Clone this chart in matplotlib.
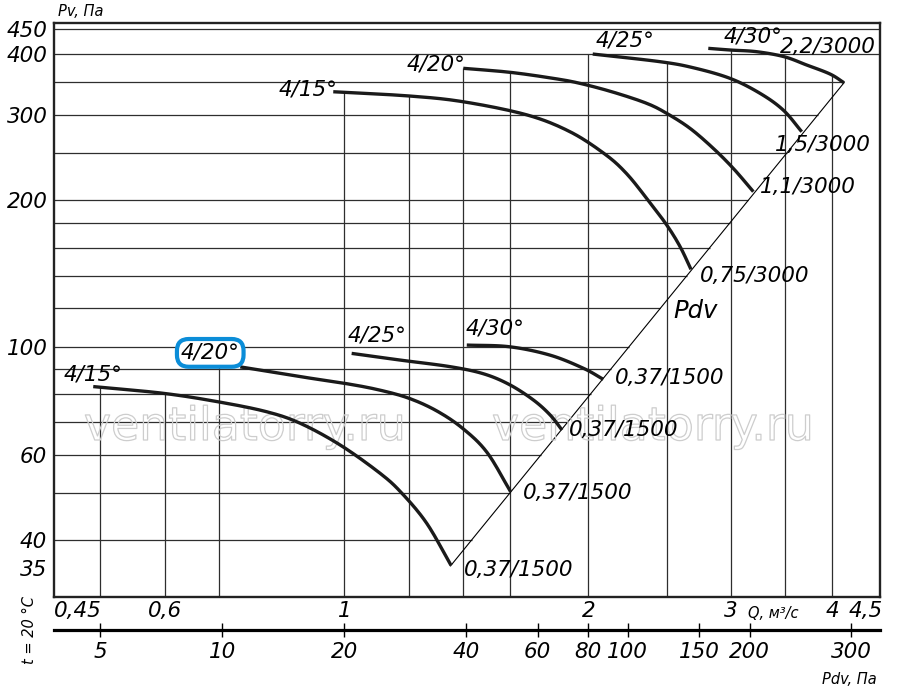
import numpy as np
import matplotlib
matplotlib.use("Agg")
import matplotlib.pyplot as plt
from matplotlib import patheffects as pe
from matplotlib.ticker import NullLocator

# ---------------- data (Q in m3/s, Pv in Pa) ----------------
lo15_q = [0.490, 0.598, 0.700, 0.802, 0.882, 0.988, 1.107, 1.177, 1.264, 1.354]
lo15_p = [82.8, 80.2, 77.0, 73.5, 69.6, 62.8, 54.9, 50.0, 43.3, 35.5]
lo20_q = [0.744, 0.882, 1.000, 1.100, 1.200, 1.300, 1.400, 1.500, 1.604]
lo20_p = [90.9, 86.8, 84.1, 81.6, 78.4, 73.8, 67.9, 60.6, 50.3]
lo25_q = [1.021, 1.171, 1.350, 1.484, 1.598, 1.711, 1.794, 1.856]
lo25_p = [96.9, 93.9, 91.0, 88.0, 83.6, 77.7, 72.4, 67.4]
lo30_q = [1.416, 1.598, 1.794, 1.972, 2.087]
lo30_p = [100.8, 100.0, 96.1, 90.3, 85.7]
up15_q = [0.969, 1.201, 1.402, 1.679, 1.898, 2.097, 2.230, 2.371, 2.499, 2.596, 2.677]
up15_p = [334.7, 328.1, 319.2, 300.0, 277.0, 249.0, 227.0, 200.0, 178.0, 160.6, 144.3]
up20_q = [1.402, 1.601, 1.811, 1.953, 2.147, 2.361, 2.499, 2.670, 2.852, 3.019, 3.196]
up20_p = [374.0, 367.0, 356.6, 348.3, 334.0, 316.8, 302.1, 281.4, 256.0, 232.8, 208.5]
up25_q = [2.025, 2.452, 2.695, 2.991, 3.257, 3.479, 3.667]
up25_p = [400.2, 385.9, 375.0, 356.6, 332.2, 306.9, 277.0]
up30_q = [2.812, 2.997, 3.227, 3.489, 3.719, 3.974, 4.135]
up30_p = [411.1, 407.8, 404.6, 395.1, 379.9, 364.0, 349.3]

blade_labels = ["4/15°", "4/20°", "4/25°", "4/30°"]
lower_motor = ["0,37/1500", "0,37/1500", "0,37/1500", "0,37/1500"]
upper_motor = ["0,75/3000", "1,1/3000", "1,5/3000", "2,2/3000"]

# dynamic-pressure line as drawn (ends)
diag_q = [1.352, 4.135]
diag_p = [35.4, 349.3]

pdv_coef = 20.0              # bottom scale: Pdv = 20 * Q^2
y_ticks = [35, 40, 60, 100, 200, 300, 400, 450]
y_tick_labels = ["35", "40", "60", "100", "200", "300", "400", "450"]
q_ticks = [0.6, 1, 2, 3, 4]
q_tick_labels = ["0,6", "1", "2", "3", "4"]
q_edge_labels = ["0,45", "4,5"]
pdv_tick_labels = ["5", "10", "20", "40", "60", "80", "100", "150", "200", "300"]
pdv_tick_pos = [5, 10, 20, 40, 60, 80, 100, 150, 200, 356]

vgrid_q = [0.5, 0.6, 0.7, 1.0, 1.2, 1.4, 1.6, 2.0, 2.5, 3.0, 3.5, 4.0]
hgrid_p = [40, 50, 60, 70, 80, 90, 100, 120, 140, 160, 180, 200, 250, 300, 350, 400, 450]

xlim = (0.4387, 4.58)
ylim = (30.6, 462.9)

# ---------------- figure ----------------
plt.rcParams["font.family"] = ["DejaVu Sans"]
plt.rcParams["font.style"] = "italic"

W, H = 900, 689
fig = plt.figure(figsize=(W / 100, H / 100), dpi=100)
L, R, T, B = 54.3, 880.0, 23.3, 596.7
ax = fig.add_axes([L / W, 1 - B / H, (R - L) / W, (B - T) / H])
ax.set_xscale("log")
ax.set_yscale("log")
ax.set_xlim(*xlim)
ax.set_ylim(*ylim)
for s in ax.spines.values():
    s.set_linewidth(1.7)
    s.set_color("#222222")

lower = [(lo15_q, lo15_p), (lo20_q, lo20_p), (lo25_q, lo25_p), (lo30_q, lo30_p)]
upper = [(up15_q, up15_p), (up20_q, up20_p), (up25_q, up25_p), (up30_q, up30_p)]
curves = lower + upper


def envelope(q):
    best = None
    for cq, cp in curves:
        if cq[0] / 1.07 <= q <= cq[-1]:
            v = np.exp(np.interp(np.log(q), np.log(cq), np.log(cp)))
            best = v if best is None else max(best, v)
    return best if best is not None else ylim[1]


def smooth_path(q, p, n=16):
    """Catmull-Rom curve through the read points (log-log space), for drawing only."""
    pts = np.column_stack([np.log(np.asarray(q, float)), np.log(np.asarray(p, float))])
    ext = np.vstack([2 * pts[0] - pts[1], pts, 2 * pts[-1] - pts[-2]])
    out = []
    t = np.linspace(0, 1, n, endpoint=False)[:, None]
    for i in range(1, len(ext) - 2):
        p0, p1, p2, p3 = ext[i - 1], ext[i], ext[i + 1], ext[i + 2]
        seg = 0.5 * ((2 * p1) + (-p0 + p2) * t + (2 * p0 - 5 * p1 + 4 * p2 - p3) * t ** 2
                     + (-p0 + 3 * p1 - 3 * p2 + p3) * t ** 3)
        out.append(seg)
    out.append(pts[-1:])
    out = np.vstack(out)
    return np.exp(out[:, 0]), np.exp(out[:, 1])


# slope of the drawn Pdv line in log-log space
diag_n = np.log(diag_p[1] / diag_p[0]) / np.log(diag_q[1] / diag_q[0])

grid_kw = dict(color="#2e2e2e", lw=0.9, zorder=1)
for q in vgrid_q:
    ax.vlines(q, ylim[0], envelope(q), **grid_kw)
for p in hgrid_p:
    if p <= diag_p[1] * 1.05:
        qend = min(diag_q[0] * (p / diag_p[0]) ** (1 / diag_n), diag_q[1])
    else:
        qend = xlim[1]
    ax.hlines(p, xlim[0], qend, **grid_kw)

ax.plot(diag_q, diag_p, color="black", lw=0.8, zorder=2)

for cq, cp in curves:
    sq, sp = smooth_path(cq, cp)
    ax.plot(sq, sp, color="#1a1a1a", lw=2.4, solid_capstyle="butt", zorder=3)

lab_fs = 15.5
# label offsets in pixels (relative to curve start / end)
lower_start_off = [(0, 12), (-30, 14), (25, 18), (28, 17)]
upper_start_off = [(-25, 2), (-27, 4), (32, 14), (45, 12)]
lower_end_off = [(68, -5), (67, -1), (62, 0), (66, 1)]
upper_end_off = [(64, -7), (55, 5), (21, -13), (-16, 36)]

for i, (cq, cp) in enumerate(lower):
    kw = {}
    if i == 1:
        kw["bbox"] = dict(boxstyle="round,pad=0.18,rounding_size=0.55", fc="white",
                          ec="#0b8dd8", lw=3)
    ax.annotate(blade_labels[i], (cq[0], cp[0]), xytext=lower_start_off[i],
                textcoords="offset pixels", ha="center", va="center",
                fontsize=lab_fs, zorder=5, **kw)
    ax.annotate(lower_motor[i], (cq[-1], cp[-1]), xytext=lower_end_off[i],
                textcoords="offset pixels", ha="center", va="center",
                fontsize=lab_fs, zorder=5)
for i, (cq, cp) in enumerate(upper):
    ax.annotate(blade_labels[i], (cq[0], cp[0]), xytext=upper_start_off[i],
                textcoords="offset pixels", ha="center", va="center",
                fontsize=lab_fs, zorder=5)
    ax.annotate(upper_motor[i], (cq[-1], cp[-1]), xytext=upper_end_off[i],
                textcoords="offset pixels", ha="center", va="center",
                fontsize=lab_fs, zorder=5)

ax.text((696 - L) / (R - L), (B - 311) / (B - T), "Pdv", transform=ax.transAxes,
        ha="center", va="center", fontsize=17.5, zorder=5)

# watermark (outlined)
for xc in [245, 653]:
    ax.text((xc - L) / (R - L), (B - 440) / (B - T), "ventilatorry.ru",
            transform=ax.transAxes, ha="center", va="baseline", fontsize=33,
            fontstyle="normal", color="none", zorder=2.5,
            path_effects=[pe.Stroke(linewidth=0.9, foreground="#cdcdcd")])

# y ticks
ax.yaxis.set_minor_locator(NullLocator())
ax.set_yticks(y_ticks, y_tick_labels)
ax.tick_params(axis="y", length=0, pad=5, labelsize=lab_fs)

# Q ticks
ax.xaxis.set_minor_locator(NullLocator())
ax.set_xticks(q_ticks, q_tick_labels)
ax.tick_params(axis="x", length=0, pad=3, labelsize=lab_fs)
ax.text(0.0, -0.007, q_edge_labels[0], transform=ax.transAxes, ha="left", va="top",
        fontsize=lab_fs)
ax.text(1.003, -0.007, q_edge_labels[1], transform=ax.transAxes, ha="right", va="top",
        fontsize=lab_fs)

# Pdv secondary axis
sec = ax.secondary_xaxis((B - 630) / (B - T),
                         functions=(lambda q: pdv_coef * np.asarray(q) ** 2,
                                    lambda p: np.sqrt(np.clip(p, 1e-9, None) / pdv_coef)))
sec.xaxis.set_minor_locator(NullLocator())
sec.set_xticks(pdv_tick_pos, pdv_tick_labels)
sec.tick_params(axis="x", direction="inout", length=10, width=1.0, pad=4, labelsize=lab_fs)
for s in sec.spines.values():
    s.set_linewidth(2.3)

# axis captions
small = 10.5
fig.text(58 / W, 1 - 11 / H, "Pv, Па", ha="left", va="center", fontsize=small)
fig.text(773 / W, 1 - 613 / H, "Q, м³/с", ha="center", va="center", fontsize=small)
fig.text(849 / W, 1 - 680 / H, "Pdv, Па", ha="center", va="center", fontsize=small)
fig.text(30 / W, 1 - 630 / H, "t = 20 °C", ha="center", va="center", fontsize=small,
         rotation=90)

fig.savefig("out.png", dpi=100)
